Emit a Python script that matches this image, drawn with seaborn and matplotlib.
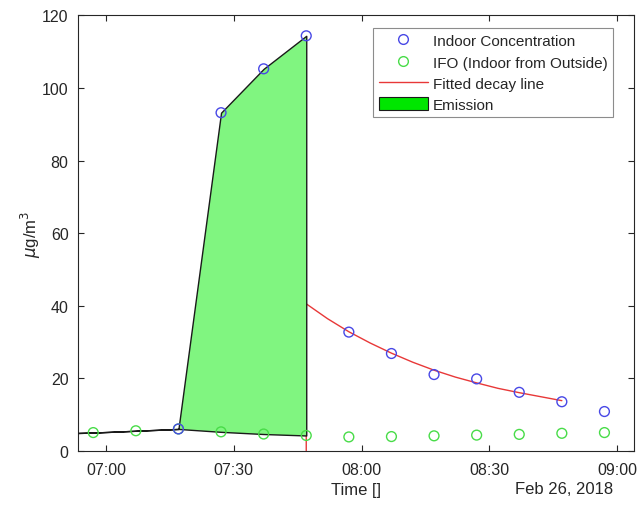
import matplotlib
matplotlib.use("Agg")
import matplotlib.pyplot as plt
import matplotlib.dates as mdates
from matplotlib.patches import Patch
from matplotlib.lines import Line2D
import seaborn as sns
import pandas as pd

sns.set_theme(style="white")
plt.rcParams['font.family'] = ['Liberation Sans', 'DejaVu Sans']

day = "2018-02-26 "
indoor_times = ["07:17", "07:27", "07:37", "07:47", "07:57", "08:07", "08:17",
                "08:27", "08:37", "08:47", "08:57"]
indoor_values = [6.0, 93.2, 105.3, 114.4, 32.7, 26.8, 21.0, 19.8, 16.1, 13.5, 10.8]

ifo_times = ["06:57", "07:07", "07:17", "07:27", "07:37", "07:47", "07:57",
             "08:07", "08:17", "08:27", "08:37", "08:47", "08:57"]
ifo_values = [5.0, 5.5, 6.0, 5.2, 4.6, 4.2, 3.8, 3.9, 4.1, 4.3, 4.5, 4.8, 5.0]

fit_times = ["07:47", "07:47", "07:52", "07:57", "08:02", "08:07", "08:12", "08:17",
             "08:22", "08:27", "08:32", "08:37", "08:42", "08:47"]
fit_values = [0.0, 40.5, 36.4, 32.8, 29.7, 26.9, 24.4, 22.2, 20.3, 18.7, 17.2,
              16.0, 14.9, 13.8]

emission_times = ["06:47", "06:57", "07:07", "07:17", "07:27", "07:37", "07:47"]
emission_upper = [4.7, 5.0, 5.5, 6.0, 93.2, 105.3, 114.4]
emission_lower = [4.7, 5.0, 5.5, 6.0, 5.2, 4.6, 4.2]

xlim_times = ["06:53:30", "09:04:00"]
xtick_times = ["07:00", "07:30", "08:00", "08:30", "09:00"]
yticks = [0, 20, 40, 60, 80, 100, 120]


def to_dt(lst):
    return pd.to_datetime([day + t for t in lst])


indoor = pd.DataFrame({"time": to_dt(indoor_times), "value": indoor_values})
ifo = pd.DataFrame({"time": to_dt(ifo_times), "value": ifo_values})
fit = pd.DataFrame({"time": to_dt(fit_times), "value": fit_values})
emis = pd.DataFrame({"time": to_dt(emission_times), "upper": emission_upper,
                     "lower": emission_lower})

fig = plt.figure(figsize=(6.41, 5.06), dpi=100)
ax = fig.add_axes([0.1222, 0.1073, 0.8673, 0.8601])

axis_col = "#262626"
blue = "#4848e6"
green = "#48dc48"
red = "#e83838"

# fitted decay line (underneath emission polygon)
ax.plot(fit["time"], fit["value"], color=red, lw=1.0, zorder=2)

# emission polygon
ax.fill_between(emis["time"], emis["lower"], emis["upper"], facecolor="#80f580",
                edgecolor="#1a1a1a", linewidth=1.0, zorder=3)

sns.scatterplot(data=ifo, x="time", y="value", ax=ax, marker="o", s=50,
                facecolors="none", edgecolor=green, linewidth=1.0, zorder=4)
sns.scatterplot(data=indoor, x="time", y="value", ax=ax, marker="o", s=50,
                facecolors="none", edgecolor=blue, linewidth=1.0, zorder=5)

ax.set_xlim(to_dt(xlim_times))
ax.set_ylim(0, 120)
ax.set_xticks(to_dt(xtick_times))
ax.xaxis.set_major_formatter(mdates.DateFormatter("%H:%M"))
ax.set_yticks(yticks)

for s in ax.spines.values():
    s.set_color(axis_col)
    s.set_linewidth(0.8)
    s.set_visible(True)
ax.tick_params(axis="both", which="major", direction="in", length=4, width=0.8,
               color=axis_col, labelcolor=axis_col, labelsize=11.5,
               top=True, right=True, bottom=True, left=True)
ax.tick_params(axis="x", pad=8)
ax.tick_params(axis="y", pad=7)

ax.set_xlabel("Time []", fontsize=12, color=axis_col, labelpad=4)
ax.set_ylabel(r"$\mu$g/m$^3$", fontsize=12, color=axis_col, labelpad=-1)
fig.text(613 / 641, 1 - 490 / 506, "Feb 26, 2018", ha="right", va="center",
         fontsize=12, color=axis_col)

handles = [
    Line2D([], [], ls="none", marker="o", markerfacecolor="none",
           markeredgecolor=blue, markersize=7, markeredgewidth=1.0),
    Line2D([], [], ls="none", marker="o", markerfacecolor="none",
           markeredgecolor=green, markersize=7, markeredgewidth=1.0),
    Line2D([], [], color=red, lw=1.0),
    Patch(facecolor="#00e600", edgecolor="#1a1a1a", linewidth=0.8),
]
labels = ["Indoor Concentration", "IFO (Indoor from Outside)", "Fitted decay line",
          "Emission"]
leg = ax.legend(handles, labels, loc="upper right", bbox_to_anchor=(0.9617, 0.971),
                fontsize=11, frameon=True, fancybox=False, framealpha=1,
                edgecolor="#8c8c8c", borderpad=0.35, labelspacing=0.42,
                handlelength=3.2, handleheight=0.95, handletextpad=0.35,
                borderaxespad=0.0)
leg.get_frame().set_linewidth(0.8)

fig.savefig("out.png", dpi=100)
